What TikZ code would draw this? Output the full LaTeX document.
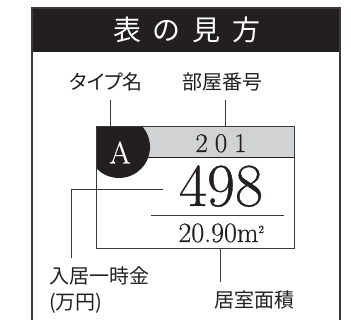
\documentclass[tikz,border=0pt]{standalone}
\usepackage{fontspec}
\newfontfamily\jpfont{Noto Sans CJK JP}[RawFeature=+palt]
\newfontfamily\jptitlefont{Noto Sans CJK JP}
\newfontfamily\numfont{Latin Modern Roman}[FakeBold=0.6]
\definecolor{headink}{HTML}{231F20}
\definecolor{frameink}{HTML}{3A3A3A}
\definecolor{bandgray}{HTML}{D1D2D4}
\tikzset{
  jplabel/.style={font=\jpfont\fontsize{20}{24}\selectfont, text=headink},
  leader/.style={draw=frameink, line width=0.9pt},
}
\begin{document}
\begin{tikzpicture}[x=1pt,y=-1pt]
            \tikzstyle{every node}+=[inner sep=0pt]
                \useasboundingbox (0,0) rectangle (351,320);
                % header and frame (open at the bottom)
                \fill [headink] (32,8) rectangle (340,52);
                \draw [frameink, line width=1.6pt] (32,320) -- (32,8) -- (340,8) -- (340,320);
                \node [text=white, font=\jptitlefont\fontsize{28}{28}\selectfont] (title) at (187,30) {表\hspace{12pt}の\hspace{12pt}見\hspace{12pt}方};
                % room card
                \coordinate (cardnw) at (96,127);
                \coordinate (cardse) at (294,249);
                \fill [bandgray] (96,127) rectangle (294,157);
                \draw [headink, line width=0.9pt] (96,157) -- (294,157);
                \begin{scope}
                    \clip (cardnw) rectangle (cardse);
                    \fill [headink] (119,147) circle (31);
                \end{scope}
                \draw [frameink, line width=1pt] (cardnw) rectangle (cardse);
                \node [text=white, font=\numfont\fontsize{31}{31}\selectfont] (type) at (120,152.5) {A};
                \node [anchor=base, text=headink, font=\numfont\fontsize{27}{27}\selectfont] (room) at (221,152) {2\hspace{7pt}0\hspace{7pt}1};
                \node [text=headink, font=\numfont\fontsize{61}{61}\selectfont] (price) at (221,186) {498};
                \draw [frameink, line width=0.9pt] (151,215) -- (284,215);
                \node [anchor=base, text=headink, font=\numfont\fontsize{28}{28}\selectfont] (area) at (221.5,242) {20.90m\textsuperscript{\fontsize{11}{11}\selectfont 2}};
                % labels
                \node [jplabel] (typename) at (106,82) {タイプ名};
                \node [jplabel] (roomno) at (222,82) {部屋番号};
                \node [jplabel, align=left, anchor=north west] (fee) at (49,266) {入居一時金\\[2pt](万円)};
                \node [jplabel] (areaname) at (254,300) {居室面積};
                % leaders
                \coordinate (typefoot) at (110,100);
                \coordinate (roomfoot) at (225,100);
                \coordinate (feetip) at (163,189);
                \coordinate (feefoot) at (71,258);
                \coordinate (areatop) at (220,282);
                \draw [leader] (typefoot) -- (typefoot |- cardnw);
                \draw [leader] (roomfoot) -- (roomfoot |- cardnw);
                \draw [leader] (feetip) -| (feefoot);
                \draw [leader] (areatop |- cardse) -- (areatop);
            \end{tikzpicture}
\end{document}
